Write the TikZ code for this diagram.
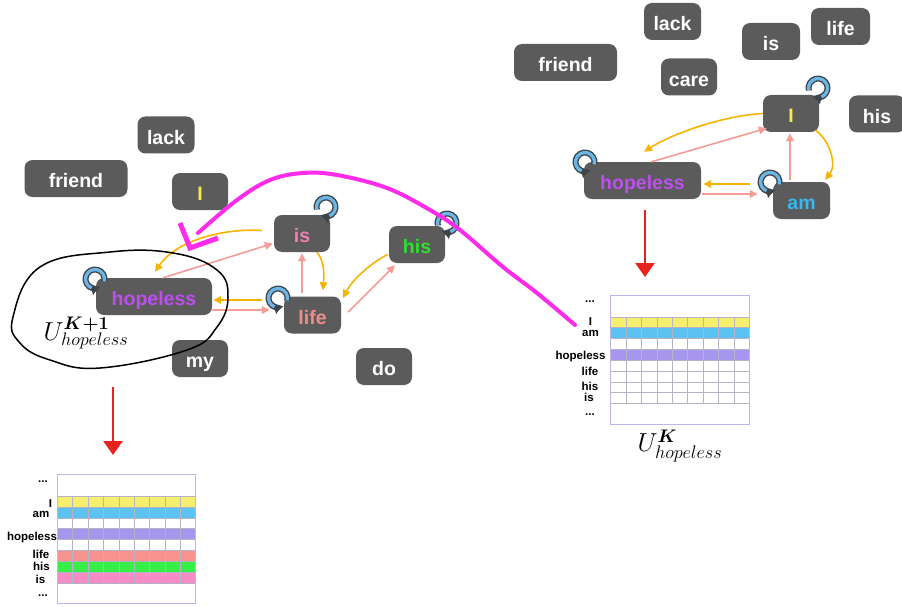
\RequirePackage{fix-cm}
\documentclass[tikz,border=0pt]{standalone}
\usepackage{bm}
\usepackage[no-math]{fontspec}
\setmainfont{Liberation Sans}
\newfontfamily\lsans{Liberation Sans}
\usetikzlibrary{arrows.meta,calc}
\definecolor{nodegray}{HTML}{5B5B5B}
\definecolor{orng}{HTML}{F6B400}
\definecolor{slmn}{HTML}{F59C96}
\definecolor{magc}{HTML}{FF2BEA}
\definecolor{redc}{HTML}{E8231E}
\definecolor{ringblue}{HTML}{6CB6E6}
\definecolor{ringdark}{HTML}{3E4448}
\definecolor{tI}{HTML}{F2EA50}
\definecolor{thop}{HTML}{BE4FEF}
\definecolor{tis}{HTML}{F07EB8}
\definecolor{tlife}{HTML}{F08C8A}
\definecolor{this}{HTML}{2EE02E}
\definecolor{tam}{HTML}{36B8F0}
\definecolor{myyel}{HTML}{F6EF6E}
\definecolor{myblu}{HTML}{5CC2F2}
\definecolor{mypur}{HTML}{A796EE}
\definecolor{mysal}{HTML}{F7928E}
\definecolor{mygrn}{HTML}{36EE47}
\definecolor{mypnk}{HTML}{F58CC8}
\definecolor{gridc}{HTML}{B4B4C4}
\definecolor{borderc}{HTML}{C0B4EE}
\newcommand\wordfont{\lsans\bfseries\fontsize{19.5}{22}\selectfont}
\newcommand\labfont{\lsans\bfseries\fontsize{11.5}{13}\selectfont}
% loop icon: #1 centre, #2 start angle, #3 end angle
\newcommand\loopicon[3]{%
  \begin{scope}[shift={#1}, yscale=-1]
    \draw[line width=6pt, draw=ringdark, -{Triangle[length=6pt,width=11pt]}] (#2:9.5) arc[start angle=#2, end angle=#3, radius=9.5];
    \draw[line width=3.2pt, draw=ringblue] (#2:9.5) arc[start angle=#2, end angle={#3+(#2-#3)*0.12}, radius=9.5];
  \end{scope}}
% matrix: #1 x, #2 y, #3 row colours
\newcommand\umat[3]{%
  \begin{scope}[shift={(#1,#2)}]
    \fill[white] (0,0) rectangle (138.6,129);
    \foreach \c [count=\i from 0] in {#3} {\fill[\c] (0,{21.8+\i*10.85}) rectangle (138.6,{21.8+(\i+1)*10.85});}
    \foreach \i in {0,...,8} {\draw[gridc, line width=0.6pt] (0,{21.8+\i*10.85}) -- (138.6,{21.8+\i*10.85});}
    \foreach \j in {1,...,8} {\draw[gridc, line width=0.6pt] ({\j*15.4},21.8) -- ({\j*15.4},{21.8+8*10.85});}
    \draw[borderc, line width=1pt] (0,0) rectangle (138.6,129);
  \end{scope}}
\begin{document}
\begin{tikzpicture}[x=1pt,y=-1pt,
  word/.style={fill=nodegray, rounded corners=8pt, text=white, font=\wordfont,
    minimum height=37pt, inner sep=0pt, text height=19pt, text depth=0.5pt},
  oarr/.style={draw=orng, line width=1.6pt, -{Triangle[length=8pt,width=7.5pt]}},
  sarr/.style={draw=slmn, line width=1.6pt, -{Triangle[length=8pt,width=7.5pt]}},
  redarr/.style={draw=redc, line width=2.6pt, -{Triangle[length=14pt,width=19pt]}},
  magline/.style={draw=magc, line width=4pt, line cap=round, line join=round},
  lab/.style={font=\labfont, anchor=base, inner sep=0pt},
  ulab/.style={font=\fontsize{26}{30}\selectfont, inner sep=0pt}]
\useasboundingbox (0,0) rectangle (902,607);
\fill[white] (0,0) rectangle (902,607);
\clip (0,0) rectangle (902,607);

% ---------- left graph ----------
\node[word, minimum width=57pt] (Llack) at (166,135) {lack};
\node[word, minimum width=103pt] (Lfriend) at (76,178.5) {friend};
\node[word, minimum width=56pt, text=tI] (LI) at (200,191.5) {I};
\node[word, minimum width=56pt, text=tis] (Lis) at (302,233.5) {is};
\node[word, minimum width=56pt, text=this] (Lhis) at (417,244.5) {his};
\node[word, minimum width=116pt, text=thop] (Lhop) at (154,296.5) {hopeless};
\node[word, minimum width=57pt, text=tlife] (Llife) at (312.5,315) {life};
\node[word, minimum width=56pt] (Lmy) at (200,358.5) {my};
\node[word, minimum width=56pt] (Ldo) at (384,366.5) {do};

\draw[oarr] ($(Lis.west)+(-12,-3)$) .. controls (220,228) and (175,242) .. ($(Lhop.north)+(1,-6)$);
\draw[sarr] ($(Lhop.north)+(9,0)$) -- ($(Lis.west)+(-1,10)$);
\draw[sarr] ($(Llife.north)+(-10.5,-3)$) -- ($(Lis.south)+(0,1)$);
\draw[oarr] ($(Lis.south)+(15,0)$) .. controls (325,262) and (324,276) .. ($(Llife.north)+(10.5,-6)$);
\draw[oarr] ($(Llife.west)+(-22,-15)$) -- ($(Lhop.east)+(1,3.5)$);
\draw[sarr] ($(Lhop.east)+(0,13.5)$) -- ($(Llife.west)+(-14,-5)$);
\draw[oarr] ($(Lhis.west)+(-1,10)$) .. controls (372,262) and (352,280) .. ($(Llife.east)+(2,-17)$);
\draw[sarr] ($(Llife.east)+(7,-3)$) -- ($(Lhis.south)+(-22,2)$);

\loopicon{(95,279)}{-15}{285}
\loopicon{(326,207)}{195}{-105}
\loopicon{(278,298)}{-15}{285}
\loopicon{(447,223)}{195}{-105}

\draw[black, line width=1.5pt] plot[smooth cycle, tension=0.7] coordinates
  {(13,317) (40,267) (110,252) (173,253) (217,270) (228,297) (217,327) (187,350) (100,368) (50,360) (20,343)};
\node[ulab] (Uleft) at (86,333) {$U^{\bm{K+1}}_{hopeless}$};

% ---------- right graph ----------
\node[word, minimum width=57pt] (Rlack) at (672.5,21.5) {lack};
\node[word, minimum width=58pt] (Ris) at (771,41.5) {is};
\node[word, minimum width=59pt] (Rlife) at (840.5,26.5) {life};
\node[word, minimum width=103pt] (Rfriend) at (565.5,62.5) {friend};
\node[word, minimum width=56pt] (Rcare) at (689,77) {care};
\node[word, minimum width=56pt, text=tI] (RI) at (791,113.5) {I};
\node[word, minimum width=56pt] (Rhis) at (877,114) {his};
\node[word, minimum width=117pt, text=thop] (Rhop) at (642.5,180.5) {hopeless};
\node[word, minimum width=57pt, text=tam] (Ram) at (801.5,200.5) {am};

\draw[oarr] (RI.west) .. controls (720,116) and (670,135) .. ($(Rhop.north)+(1.5,-10)$);
\draw[sarr] ($(Rhop.north)+(9,0)$) -- ($(RI.south west)+(4,-4)$);
\draw[sarr] ($(Ram.north)+(-11.5,-2)$) -- ($(RI.south)+(-1,1)$);
\draw[oarr] ($(RI.south east)+(-4,-2)$) .. controls (830,140) and (837,165) .. ($(Ram.north)+(23.5,-2)$);
\draw[oarr] ($(Ram.west)+(-23,-16.5)$) -- ($(Rhop.east)+(2,3.5)$);
\draw[sarr] ($(Rhop.east)+(1,13.5)$) -- ($(Ram.west)+(-15,-6.5)$);

\loopicon{(818,88)}{195}{-105}
\loopicon{(585,162)}{-15}{285}
\loopicon{(770,182)}{-15}{285}

% ---------- matrices ----------
\umat{57.3}{474.3}{myyel,myblu,white,mypur,white,mysal,mygrn,mypnk}
\umat{610.7}{295}{myyel,myblu,white,mypur,white,white,white,white}

\node[lab] (la0) at (43,482) {...};
\node[lab] (la1) at (50.5,507) {I};
\node[lab] (la2) at (41,517) {am};
\node[lab] (la3) at (32,540) {hopeless};
\node[lab] (la4) at (41,558) {life};
\node[lab] (la5) at (41.5,570) {his};
\node[lab] (la6) at (40.5,583) {is};
\node[lab] (la7) at (43,596) {...};

\node[lab] (ra0) at (590,302) {...};
\node[lab] (ra1) at (590.5,325) {I};
\node[lab] (ra2) at (590.5,336) {am};
\node[lab] (ra3) at (580.5,359) {hopeless};
\node[lab] (ra4) at (590,375) {life};
\node[lab] (ra5) at (590,390) {his};
\node[lab] (ra6) at (589,401) {is};
\node[lab] (ra7) at (590,415) {...};

\node[ulab] (Uright) at (680,446) {$U^{\bm{K}}_{hopeless}$};

% ---------- red arrows ----------
\coordinate (lr1) at (113,387);
\coordinate (lr2) at (113,455);
\draw[redarr] (lr1) -- (lr2);
\coordinate (rr1) at (645,210);
\coordinate (rr2) at (645,277);
\draw[redarr] (rr1) -- (rr2);

% ---------- magenta annotation ----------
\draw[magline] plot[smooth, tension=0.6] coordinates
  {(575,325) (537,293) (503,267) (460,230) (430,210) (387,188) (337,175) (303,173) (270,180) (237,200) (198,233)};
\draw[magline, line width=5pt, line join=miter, line cap=butt] (180,223) -- (190,248) -- (218,238);
\end{tikzpicture}
\end{document}
